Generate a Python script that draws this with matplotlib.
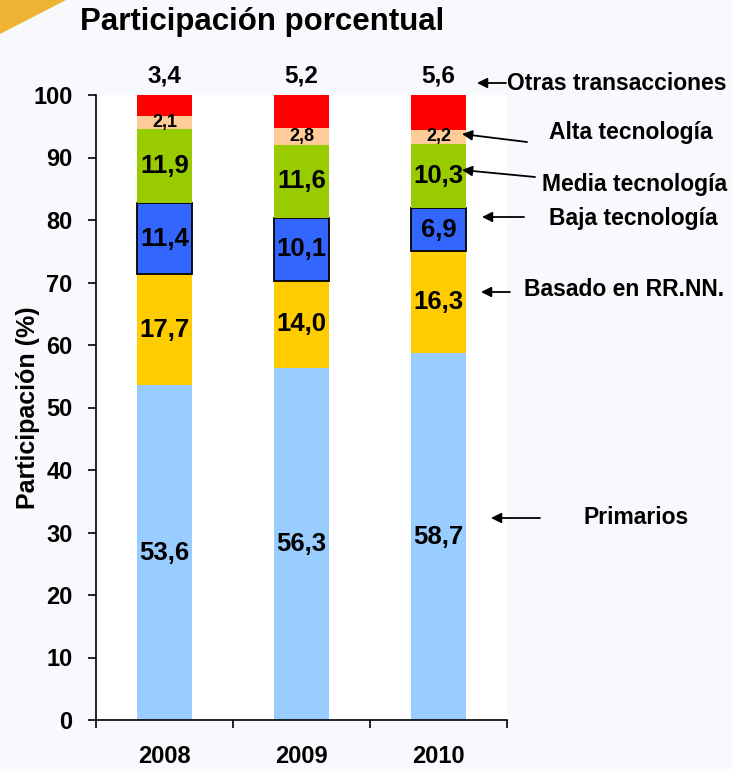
import matplotlib
matplotlib.use("Agg")
import matplotlib.pyplot as plt
from matplotlib.patches import Polygon
import numpy as np

plt.rcParams['font.family'] = ['Liberation Sans', 'DejaVu Sans']
plt.rcParams['font.weight'] = 'bold'

years = ["2008", "2009", "2010"]
primarios = [53.6, 56.3, 58.7]
rrnn = [17.7, 14.0, 16.3]
baja = [11.4, 10.1, 6.9]
media = [11.9, 11.6, 10.3]
alta = [2.1, 2.8, 2.2]
otras = [3.4, 5.2, 5.6]

series = [primarios, rrnn, baja, media, alta, otras]
names = ["Primarios", "Basado en RR.NN.", "Baja tecnología", "Media tecnología",
         "Alta tecnología", "Otras transacciones"]
colors = ["#99CCFF", "#FFCC00", "#3366FF", "#99CC00", "#FFCC99", "#FF0000"]

W, H = 732, 769
fig = plt.figure(figsize=(W / 100, H / 100), dpi=100, facecolor="#F7F9FC")

# yellow corner decoration
tri = Polygon([[0, 1], [66 / W, 1], [0, 1 - 34 / H]], closed=True,
              transform=fig.transFigure, facecolor="#EEB333", edgecolor="none")
fig.patches.append(tri)

ax = fig.add_axes([96 / W, 1 - 720 / H, (507 - 96) / W, (720 - 95) / H])
ax.set_facecolor("white")

x = np.arange(len(years))
bottom = np.zeros(len(years))
width = 0.4
for i, (vals, col) in enumerate(zip(series, colors)):
    vals = np.array(vals)
    ec = "black" if i == 2 else "none"
    ax.bar(x, vals, width, bottom=bottom, color=col, edgecolor=ec,
           linewidth=1.3 if i == 2 else 0, zorder=2)
    for xi, v, b in zip(x, vals, bottom):
        if i == 5:
            ax.text(xi, 101.2, f"{v:.1f}".replace(".", ","), ha="center", va="bottom",
                    fontsize=17.5, fontweight="bold", clip_on=False)
        else:
            fs = 13 if i == 4 else 18.5
            ax.text(xi, b + v / 2, f"{v:.1f}".replace(".", ","), ha="center",
                    va="center", fontsize=fs, fontweight="bold", zorder=3)
    bottom += vals

ax.set_xlim(-0.5, 2.5)
ax.set_ylim(0, 100)
ax.set_yticks(np.arange(0, 101, 10))
ax.tick_params(axis="y", length=6, width=1.2, labelsize=17, pad=11, direction="out")
ax.set_xticks(x)
ax.set_xticklabels(years)
ax.set_xticks([-0.5, 0.5, 1.5, 2.5], minor=True)
ax.tick_params(axis="x", which="major", length=0, labelsize=17, pad=18)
ax.tick_params(axis="x", which="minor", length=6, width=1.2, direction="out")
for lab in ax.get_xticklabels() + ax.get_yticklabels():
    lab.set_fontweight("bold")
for s in ["top", "right"]:
    ax.spines[s].set_visible(False)
for s in ["left", "bottom"]:
    ax.spines[s].set_linewidth(1.2)

ax.set_ylabel("Participación (%)", fontsize=18, fontweight="bold")
ax.yaxis.set_label_coords((40 - 96) / 411, 0.5)

fig.text(262 / W, 1 - 22 / H, "Participación porcentual", ha="center", va="center",
         fontsize=22.5, fontweight="bold")


def px(p):
    return (p - 96) / 137.0 - 0.5


def py(p):
    return (720 - p) / 6.25


# annotations: (text center px, text y px, arrow tail px, arrow tip px)
ann = [
    ("Otras transacciones", 617, 83, (506, 83), (477, 83)),
    ("Alta tecnología", 631, 133, (527, 142), (462, 134)),
    ("Media tecnología", 635, 184, (535, 177), (462, 170)),
    ("Baja tecnología", 633, 218, (524, 217), (482, 217)),
    ("Basado en RR.NN.", 624, 290, (510, 292), (481, 292)),
    ("Primarios", 636, 518, (540, 518), (491, 518)),
]
for name, tx, ty, tail, tip in ann:
    ax.text(px(tx), py(ty), name, ha="center", va="center", fontsize=16.5,
            fontweight="bold", clip_on=False)
    ax.annotate("", xy=(px(tip[0]), py(tip[1])), xytext=(px(tail[0]), py(tail[1])),
                annotation_clip=False,
                arrowprops=dict(arrowstyle="-|>", color="black", lw=1.3,
                                mutation_scale=15, shrinkA=0, shrinkB=0))

fig.savefig("out.png", dpi=100, facecolor=fig.get_facecolor())
